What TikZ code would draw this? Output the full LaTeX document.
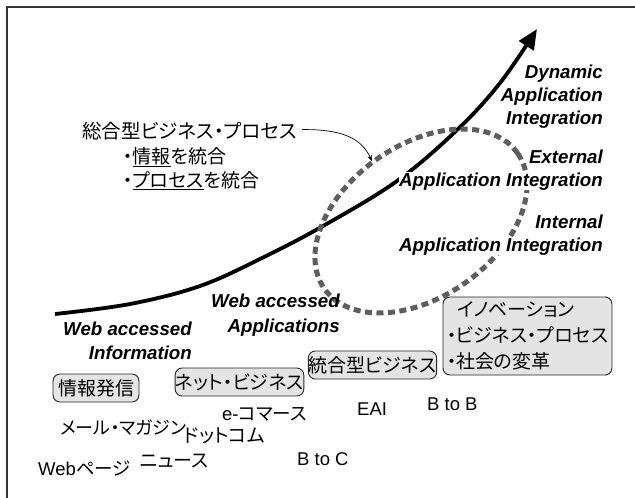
\documentclass[tikz,border=0pt]{standalone}
\usepackage{fontspec}
\setmainfont{Liberation Sans}
\newfontfamily\jp[RawFeature=+palt]{Noto Sans CJK JP}
\usetikzlibrary{arrows.meta}
\definecolor{ellgray}{HTML}{5E5E5E}
\definecolor{boxgray}{HTML}{E4E4E4}
\begin{document}
\begin{tikzpicture}[x=1pt,y=-1pt,
  itl/.style={font=\fontsize{18.7}{23}\selectfont\bfseries\itshape, inner sep=0pt, anchor=base east},
  jtxt/.style={font=\jp\fontsize{19}{24}\selectfont, inner sep=0pt, anchor=base west},
  ltxt/.style={font=\fontsize{18.5}{22}\selectfont, inner sep=0pt, anchor=base west},
  jbox/.style={draw=black!85, line width=0.9pt, rounded corners=7pt, fill=boxgray, inner sep=0pt, font=\jp\fontsize{19}{26}\selectfont},
]
\useasboundingbox (0,0) rectangle (635,498);
% frame
\draw[line width=1.3pt, black!80] (7,498) -- (7,7) -- (635,7);

% main growth curve
\coordinate (cstart) at (55,314);
\coordinate (ctip) at (537,29);
\draw[line width=3.8pt, -{Triangle[length=20pt,width=17pt]}]
  plot[smooth, tension=0.6] coordinates {(cstart) (130,304) (200,286) (262,258) (323,226) (397,181) (457,130) (500,83) (ctip)};

% dashed ellipse
\coordinate (ellc) at (421,221);
\draw[line width=5pt, ellgray, dash pattern=on 7pt off 4.5pt, rotate around={35:(ellc)}]
  (ellc) ellipse [x radius=118pt, y radius=76pt];

% heading with arrow
\node[jtxt, font=\jp\fontsize{19.5}{24}\selectfont] (head) at (82,138) {総合型ビジネス・プロセス};
\node[jtxt] (item1) at (123,163) {・\underline{情報}を統合};
\node[jtxt] (item2) at (123,187) {・\underline{プロセス}を統合};
\coordinate (htip) at (372,161);
\draw[line width=0.7pt, -{Stealth[length=6pt,width=4.5pt]}]
  ([xshift=5pt,yshift=1pt]head.east) .. controls (345,129) and (362,140) .. (htip);

% right labels
\node[itl] (dyn1) at (603,78) {Dynamic};
\node[itl] (dyn2) at (603,101) {Application};
\node[itl] (dyn3) at (603,124) {Integration};
\node[itl] (ext1) at (603,163) {External};
\node[itl, fill=white] (ext2) at (603,186) {Application Integration};
\node[itl] (int1) at (603,228) {Internal};
\node[itl, fill=white] (int2) at (603,251) {Application Integration};

% lower labels
\node[itl] (wai1) at (192,335) {Web accessed};
\node[itl] (wai2) at (192,359) {Information};
\node[itl] (waa1) at (340,307) {Web accessed};
\node[itl] (waa2) at (340,332) {Applications};

% boxes
\node[jbox, minimum width=86pt, minimum height=28pt] (b1) at (96,388) {情報発信};
\node[jbox, minimum width=125pt, minimum height=28pt] (b2) at (239.5,382) {ネット・ビジネス};
\node[jbox, minimum width=125pt, minimum height=28pt] (b3) at (372.5,365) {統合型ビジネス};
\node[jbox, minimum width=169pt, minimum height=78pt, align=left] (b4) at (527.5,336)
  {\hspace{10pt}イノベーション\\・ビジネス・プロセス\\・社会の変革};

% example texts
\node[jtxt, font=\jp\fontsize{18}{24}\selectfont] (t1) at (60,434) {メール・マガジン};
\node[jtxt] (t2) at (184,442) {ドットコム};
\node[ltxt] (t3) at (222,420) {e-{\jp コマース}};
\node[ltxt] (t4) at (38,475) {Web{\jp ページ}};
\node[jtxt] (t5) at (140,467) {ニュース};
\node[ltxt] (t6) at (297,465) {B to C};
\node[ltxt] (t7) at (357,415) {EAI};
\node[ltxt] (t8) at (427,410) {B to B};
\end{tikzpicture}
\end{document}
